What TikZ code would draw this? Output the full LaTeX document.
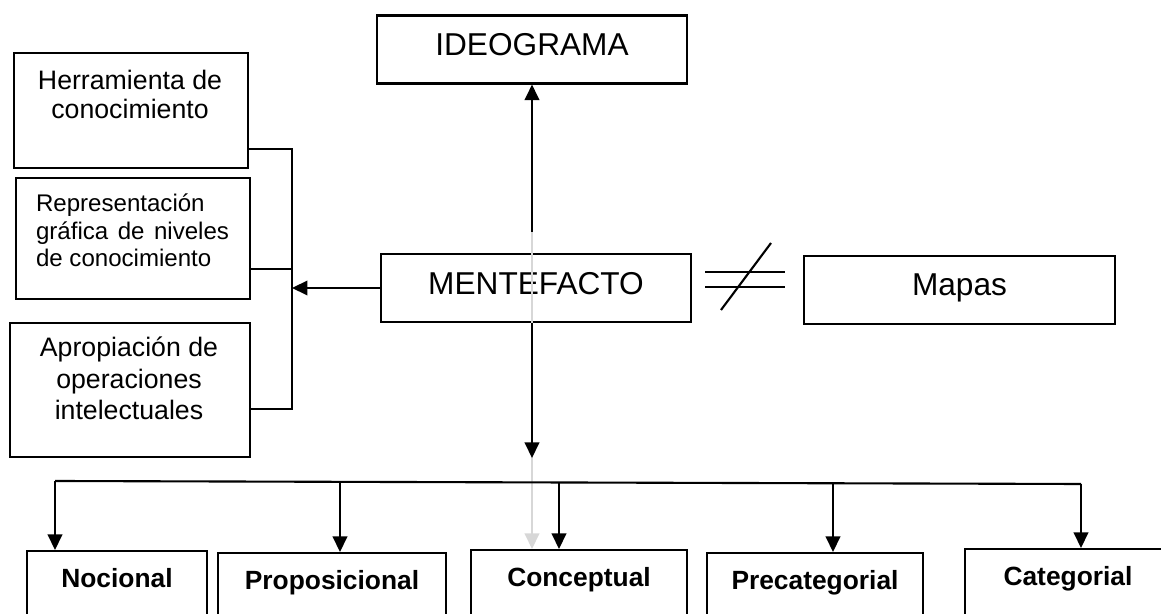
\documentclass[tikz,border=0pt]{standalone}
\usepackage{fontspec}
\setmainfont{Liberation Sans}
\usepackage{tikz}
\usetikzlibrary{arrows.meta}
\definecolor{gris}{RGB}{215,215,215}

\begin{document}
\begin{tikzpicture}[x=0.02cm,y=-0.02cm,line width=1.2pt,
        caja/.style={draw,inner sep=0pt},
        txt/.style={inner sep=0pt,anchor=north},
        flecha/.style={-{Triangle[length=0.31cm,width=0.29cm]}},
        grande/.style={caja,font=\fontsize{18}{22}\selectfont,minimum width=6.2cm,minimum height=1.36cm,text depth=0.2cm},
        nivel/.style={caja,anchor=north,font=\bfseries\fontsize{15}{18}\selectfont,text height=0.73cm,text depth=0.87cm}]
                \useasboundingbox
                    (0,0) rectangle (1161,614);
                \clip
                    (0,0) rectangle (1161,614);
                % centro
                \node[grande] (ideo) at (532,49.5) {IDEOGRAMA};
                \node[grande] (mente) at (536,288) {MENTEFACTO};
                \node[grande,minimum width=6.22cm] (mapas) at (959.5,290) {Mapas};
                % izquierda
                \node[caja,anchor=north west,minimum width=4.68cm,minimum height=2.3cm] (herr) at (13,52) {};
                \node[txt,align=center,font=\fontsize{15.2}{16.5}\selectfont] (herrtxt) at (130,69) {Herramienta de\\conocimiento};
                \node[caja,anchor=north west,minimum width=4.68cm,minimum height=2.42cm] (rep) at (15,177) {};
                \node[txt,anchor=north west,text width=3.86cm,align=justify,font=\fontsize{13.7}{15.6}\selectfont] (reptxt) at (35,193) {Representación gráfica de niveles de conocimiento};
                \node[caja,anchor=north west,minimum width=4.8cm,minimum height=2.68cm] (apro) at (9,322) {};
                \node[txt,align=center,font=\fontsize{15.2}{18}\selectfont] (aprotxt) at (129,336) {Apropiación de\\operaciones\\intelectuales};
                % niveles
                \node[nivel,minimum width=3.6cm] (nocional) at (117,550) {Nocional};
                \node[nivel,minimum width=4.56cm] (propos) at (332,552) {Proposicional};
                \node[nivel,minimum width=4.32cm] (concep) at (579,549) {Conceptual};
                \node[nivel,minimum width=4.32cm] (precat) at (815,552) {Precategorial};
                \node[nivel,minimum width=4.12cm] (categ) at (1068,548) {Categorial};
                % puntos de union
                \coordinate (b1) at (292,149);
                \coordinate (b2) at (292,269);
                \coordinate (b3) at (292,409);
                \coordinate (gtop) at (532,232);
                \coordinate (dtip) at (532,458);
                \coordinate (h1) at (55,481);
                \coordinate (h2) at (340,481.8);
                \coordinate (h3) at (559,482.5);
                \coordinate (h4) at (833,483.3);
                \coordinate (h5) at (1081,484);
                % linea gris
                \draw[flecha,color=gris]
                    (gtop) -- (gtop |- concep.north);
                % conectores
                \draw
                    (herr.east |- b1) -- (b1) -- (b3) -- (apro.east |- b3);
                \draw
                    (rep.east |- b2) -- (b2);
                \draw[flecha]
                    (mente.west) -- (mente.west -| b1);
                \draw[flecha]
                    (gtop) -- (ideo.south -| gtop);
                \draw[flecha]
                    (gtop |- mente.south) -- (dtip);
                \draw
                    (h1) -- (h5);
                \foreach \h/\n in {h1/nocional,h2/propos,h3/concep,h4/precat,h5/categ}
                    \draw[flecha] (\h) -- (\h |- \n.north);
                % distinto
                \draw
                    (705,272) -- (785,272);
                \draw
                    (705,287) -- (785,287);
                \draw
                    (721,310) -- (771,243);
            \end{tikzpicture}
\end{document}
